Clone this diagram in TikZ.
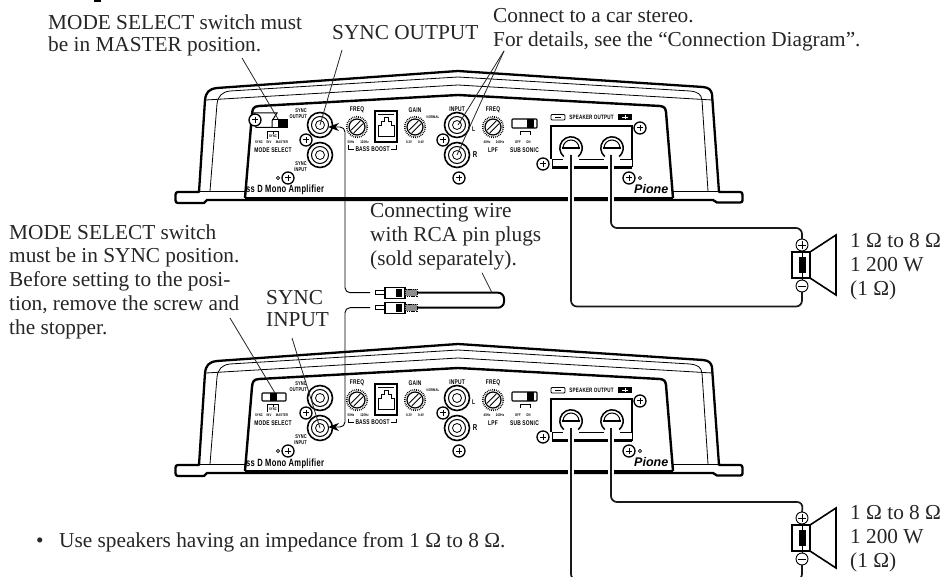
\documentclass[tikz,border=0pt]{standalone}
\usepackage{fontspec}
\usetikzlibrary{arrows.meta}
\setmainfont{Liberation Serif}
\newfontfamily\ampf[FakeStretch=0.72,LetterSpace=3]{Liberation Sans Bold}
\newfontfamily\brandf{Liberation Sans Bold Italic}
\tikzset{
  thick line/.style={line width=2.3pt,line join=round,line cap=round},
  thin line/.style={line width=.8pt},
  leader/.style={line width=.8pt,draw=black!85},
  wire/.style={line width=1.7pt,rounded corners=6pt,draw=black!90},
  halo/.style={line width=6pt,draw=white},
  sigwire/.style={line width=.9pt,rounded corners=5pt},
  txt/.style={font=\fontsize{21.3}{24}\selectfont,inner sep=0pt,anchor=base west,align=left,text=black!85},
  big/.style={font=\ampf\fontsize{6.8}{7}\selectfont,inner sep=0pt},
  tiny/.style={font=\ampf\fontsize{3.8}{4}\selectfont,inner sep=0pt},
}
\newcommand{\ampKnob}[2]{%
  \fill[white] (#1,#2) circle (11);
  \draw[line width=1.6pt,dash pattern=on .8pt off 1.1pt] (#1,#2) circle (10.3);
  \draw[line width=1.2pt,fill=white] (#1,#2) circle (8);
  \begin{scope}[shift={(#1,#2)},rotate=45]
    \draw[line width=.9pt] (-6.5,-2) -- (6.5,-2) (-6.5,2) -- (6.5,2);
  \end{scope}}
\newcommand{\ampScrew}[2]{%
  \draw[line width=1.3pt,fill=white] (#1,#2) circle (6);
  \draw[line width=1pt] (#1-3,#2) -- (#1+3,#2) (#1,#2-3) -- (#1,#2+3);}
\newcommand{\ampJack}[2]{%
  \draw[line width=1.6pt,fill=white] (#1,#2) circle (12.5);
  \draw[line width=1pt] (#1,#2) circle (8.5);
  \draw[line width=.8pt] (#1,#2) circle (4.5);}
\newcommand{\ampTerm}[2]{%
  \draw[line width=1.5pt] (#1-7.2,#2+8.6) arc (130:410:11.2);
  \draw[line width=1pt] (#1-8,#2) arc (180:360:8);
  \draw[line width=1.2pt] (#1-9,#2) -- (#1+9,#2);}
% #1 = 1 for master + stopper, 0 for sync
\newcommand{\ampUnit}[1]{%
  % housing
  \draw[thick line,fill=white] (199,192) -- (205,100) .. controls (206,92) and (209,89) .. (217,88)
     -- (458,71) -- (703,87) .. controls (709,87.5) and (711,90) .. (712,94) -- (719,192)
     -- (740,192) .. controls (742,192) and (742.5,193) .. (742.5,195) -- (742.5,200)
     .. controls (742.5,202) and (742,202.5) .. (740,202.5) -- (717,202.5) -- (713,200) -- (673,200)
     -- (207,200) -- (204,203) -- (178,203) .. controls (176,203) and (175.5,202) .. (175.5,200)
     -- (175.5,195) .. controls (175.5,193) and (176,192) .. (178,192) -- cycle;
  \draw[thin line] (206,100) -- (458,85) -- (712,100);
  \draw[thin line] (210,191) -- (217,104) .. controls (218,96) and (222,92) .. (230,91) -- (458,77);
  \draw[thin line] (458,77) -- (690,91) .. controls (698,92) and (701,94) .. (702,100) -- (708,191);
  \draw[thin line] (199,191.5) -- (245,191.5) (673,191.5) -- (719,191.5);
  % face plate
  \draw[line width=2.4pt,line join=round,fill=white] (245,198) -- (252,114) .. controls (252.5,108) and (254,106.5) .. (259,106)
     -- (458,95) -- (660,106) .. controls (664,106.5) and (665.5,108) .. (666,112) -- (673,198);
  \draw[line width=3.3pt] (245,199) coordinate (plateL) -- (673,199) coordinate (plateR);
  % left group
  \node[tiny,anchor=east,font=\ampf\fontsize{5.5}{6}\selectfont,align=right] (lblOut) at (307,113.5) {SYNC\\OUTPUT};
  \node[tiny,anchor=east,font=\ampf\fontsize{5.5}{6}\selectfont,align=right] (lblIn) at (307,166.5) {SYNC\\INPUT};
  \node[big] (lblMode) at (273,150.5) {MODE SELECT};
  \node[tiny] (lblSy) at (259,142) {SYNC};
  \node[tiny] (lblInv) at (269,142) {INV};
  \node[tiny] (lblMas) at (282,142) {MASTER};
  \node[tiny] (lblSy2) at (273,136.5) {SYNC};
  \draw[line width=.5pt] (267.5,139) -- (267.5,131) -- (278.5,131) -- (278.5,139);
  \draw[line width=.5pt] (273,134) -- (273,131);
  \ifnum#1=1
    \draw[line width=1pt,fill=white] (254,113) -- (277,113) -- (272,121) -- (272,127.5) -- (256,127.5) -- cycle;
    \ampScrew{255}{120}
    \fill (278,119.5) rectangle (287,128);
    \draw[line width=1pt] (272,119.5) -- (287,119.5) -- (287,128) -- (272,128);
  \else
    \draw[line width=1.1pt,fill=white,rounded corners=.8pt] (262,120) rectangle (286,128);
    \fill (270,120) rectangle (277,128);
  \fi
  \ampJack{320}{125}
  \ampJack{320}{155}
  \ampScrew{306}{140}
  \coordinate (jackOut) at (320,125);
  \coordinate (jackIn) at (320,155);
  \coordinate (modeSw) at (278,119);
  \coordinate (syncSw) at (275,120);
  \ampScrew{288}{178}
  \draw[line width=.8pt,fill=white] (278,178) circle (1.6);
  % bass boost
  \node[big] (lblFreqA) at (357,110) {FREQ};
  \ampKnob{357}{127}
  \node[tiny] (lblA50) at (351,142) {50Hz};
  \node[tiny] (lblA120) at (364.5,142) {120Hz};
  \node[big] (lblBass) at (372.5,149.5) {BASS BOOST};
  \draw[line width=.5pt] (348,145.5) -- (348,149) -- (354,149) (391,149) -- (396,149) -- (396,145.5);
  \draw[line width=1.2pt,fill=white] (375,111) rectangle (397,142);
  \draw[line width=.8pt] (378,114) -- (394,114) (378,136) -- (378,125) -- (381,125) -- (381,121) -- (384,121) -- (384,117.5) -- (388,117.5) -- (388,121) -- (391,121) -- (391,125) -- (394,125) -- (394,136) -- cycle;
  % gain
  \node[big] (lblGain) at (415,110) {GAIN};
  \ampKnob{415}{127}
  \node[tiny] (lblNorm) at (433,117) {NORMAL};
  \node[tiny] (lblV2) at (409,142) {0.2V};
  \node[tiny] (lblV4) at (421,142) {0.4V};
  % input
  \ampJack{457}{125}
  \ampJack{457}{155}
  \coordinate (jackL) at (458,125);
  \coordinate (jackR) at (457,155);
  \ampScrew{443}{140}
  \ampScrew{459}{178}
  \node[big] (lblInp) at (457,109.5) {INPUT};
  \node[big] (lblL) at (473.5,129) {L};
  \node[big,font=\ampf\fontsize{8.5}{9}\selectfont] (lblR) at (475,155) {R};
  % lpf
  \node[big] (lblFreqB) at (493,110) {FREQ};
  \ampKnob{493}{127}
  \node[tiny] (lbl40) at (487,142) {40Hz};
  \node[tiny] (lbl240) at (500,142) {240Hz};
  \node[big] (lblLpf) at (493,150.5) {LPF};
  % subsonic
  \draw[line width=1.1pt,fill=white,rounded corners=.8pt] (512,119) rectangle (537,128);
  \fill (527,119) rectangle (534,128);
  \draw[line width=.5pt] (520,135) -- (520,131) -- (530,131) -- (530,135);
  \node[tiny] (lblOff) at (518,142) {OFF};
  \node[tiny] (lblOn) at (528.5,142) {ON};
  \node[big] (lblSub) at (524.5,150.5) {SUB SONIC};
  % speaker out
  \draw[line width=.9pt,rounded corners=1pt] (551,114.5) rectangle (565,120);
  \draw[line width=1pt] (555,117.2) -- (561,117.2);
  \node[big,font=\ampf\fontsize{6.3}{7}\selectfont] (lblSpk) at (591.5,117) {SPEAKER OUTPUT};
  \fill (618,114.5) rectangle (632,120);
  \draw[white,line width=1pt] (622,117.2) -- (628,117.2) (625,115.2) -- (625,119.2);
  \draw[line width=1.3pt] (632,159) -- (632,126) -- (551,126) -- (551,159);
  \draw[line width=.9pt] (552,159) -- (632,159);
  \draw[line width=2.2pt] (552,167.5) -- (632,167.5);
  \draw[line width=1pt] (552,159) -- (552,167.5) (632,159) -- (632,167.5);
  \fill[white] (563,150) rectangle (579,160.5);
  \fill[white] (604,150) rectangle (620,160.5);
  \ampTerm{571}{148}
  \ampTerm{612}{148}
  \coordinate (termA) at (571,155);
  \coordinate (termB) at (611,155);
  \ampScrew{640}{128}
  \ampScrew{543}{164}
  \ampScrew{629}{178}
  \draw[line width=.8pt,fill=white] (640,178) circle (1.6);
  \node[inner sep=0pt,anchor=base west,font=\brandf\fontsize{12.5}{13}\selectfont] (lblBrand) at (634,193.5) {Pione};
  \node[inner sep=0pt,anchor=base west,font=\ampf\fontsize{10.5}{11}\selectfont] (lblClass) at (246,193) {ss D Mono Amplifier};
}
\newcommand{\spkUnit}{%
  \draw[line width=.9pt,fill=white] (802,245) circle (6);
  \draw[line width=.9pt] (798,245) -- (806,245) (802,241) -- (802,249);
  \draw[line width=.9pt,fill=white] (802,286) circle (6);
  \draw[line width=.9pt] (798,286) -- (806,286);
  \draw[line width=.8pt] (802,251) -- (802,280);
  \draw[line width=1.6pt] (792,252) rectangle (810,278);
  \fill (799,257) rectangle (806,273);
  \draw[line width=1.6pt,line join=miter] (810,252) -- (836,235) -- (836,295) -- (810,278);
  \coordinate (plus) at (802,239);
  \coordinate (minus) at (802,292);
}
\begin{document}
\begin{tikzpicture}[x=1pt,y=-1pt]
  \useasboundingbox (0,0) rectangle (943,577);
  \clip (0,0) rectangle (943,577);
  \fill[white] (0,0) rectangle (943,577);
  \fill (94,0) rectangle (100.5,2);
  \begin{scope}[name prefix=u-]\ampUnit{1}\end{scope}
  \begin{scope}[yshift=-273pt,name prefix=v-]\ampUnit{0}\end{scope}
  \begin{scope}[name prefix=su-]\spkUnit\end{scope}
  \begin{scope}[yshift=-273pt,name prefix=sv-]\spkUnit\end{scope}
  % texts
  \node[txt,font=\fontsize{21.3}{22}\selectfont] (tMaster) at (48,52) {MODE SELECT switch must\\be in MASTER position.};
  \node[txt] (tOut) at (332,40) {SYNC OUTPUT};
  \node[txt] (tStereo) at (493,47) {Connect to a car stereo.\\For details, see the “Connection Diagram”.};
  \node[txt] (tSync) at (9,335) {MODE SELECT switch\\must be in SYNC position.\\Before setting to the posi-\\tion, remove the screw and\\the stopper.};
  \node[txt,font=\fontsize{21.3}{22}\selectfont] (tIn) at (266,327) {SYNC\\INPUT};
  \node[txt] (tCable) at (370,266) {Connecting wire\\with RCA pin plugs\\(sold separately).};
  \node[txt] (tImpA) at (850,296) {1 Ω to 8 Ω\\1 200 W\\(1 Ω)};
  \node[txt] (tImpB) at (850,567) {1 Ω to 8 Ω\\1 200 W\\(1 Ω)};
  \node[txt] (tUse) at (59,547) {Use speakers having an impedance from 1 Ω to 8 Ω.};
  \node[txt] (tBullet) at (36,547) {•};
  % leaders
  \coordinate (lMaster) at (242,58);
  \coordinate (lOut) at (342,50);
  \coordinate (lStereo) at (504,51);
  \coordinate (lSync) at (230,318);
  \coordinate (lIn) at (292,338);
  \coordinate (lCable) at (482,272.7);
  \draw[leader] (lMaster) -- (u-modeSw);
  \draw[leader] (lOut) -- (u-jackOut);
  \draw[leader] (lStereo) -- (u-jackL);
  \draw[leader] (lStereo) -- (u-jackR);
  \draw[leader] (lSync) -- (v-syncSw);
  \draw[leader] (lIn) -- (v-jackIn);
  % RCA cable
  \coordinate (plugA) at (370,292.7);
  \coordinate (plugB) at (370,307.7);
  \foreach \yy/\nn in {292.7/a,307.7/b}{
    \draw[line width=.9pt,fill=white] (375,\yy-1.8) rectangle (385,\yy+1.8);
    \draw[line width=1.1pt,fill=white] (385,\yy-5.5) rectangle (405,\yy+5.5);
    \fill (396,\yy-4) rectangle (402,\yy+4);
    \draw[line width=.8pt,fill=black!45,dash pattern=on 1.2pt off .6pt] (405,\yy-3.5) rectangle (417,\yy+3.5);
  }
  \draw[line width=2pt,rounded corners=6pt] (417,292.7) coordinate (cabA) -- (504,292.7) -- (504,307.7) -- (417,307.7) coordinate (cabB);
  \draw[leader] (lCable) -- (492,292.7);
  % signal wires
  \draw[sigwire,-{Stealth[length=11pt,width=8pt]}] (plugA) -- (345,292.7) -- (345,127) -- (328,127) coordinate (arrA);
  \draw[sigwire,-{Stealth[length=11pt,width=8pt]}] (plugB) -- (345,307.7) -- (345,427) -- (328,427) coordinate (arrB);
  % speaker wires upper
  \draw[halo] (571,166) -- (571,210);
  \draw[halo] (611,166) -- (611,210);
  \draw[wire] (u-termB) -- (611,228) -- (802,228) -- (su-plus);
  \draw[wire] (u-termA) -- (571,306.5) -- (802,306.5) -- (su-minus);
  % speaker wires lower
  \draw[halo] (571,439) -- (571,480);
  \draw[halo] (611,439) -- (611,480);
  \draw[wire] (v-termB) -- (611,502) -- (803,502) -- (sv-plus);
  \draw[wire] (v-termA) -- (571,580) -- (580,580);
  \draw[wire] (sv-minus) -- (802,580) -- (795,580);
\end{tikzpicture}
\end{document}
